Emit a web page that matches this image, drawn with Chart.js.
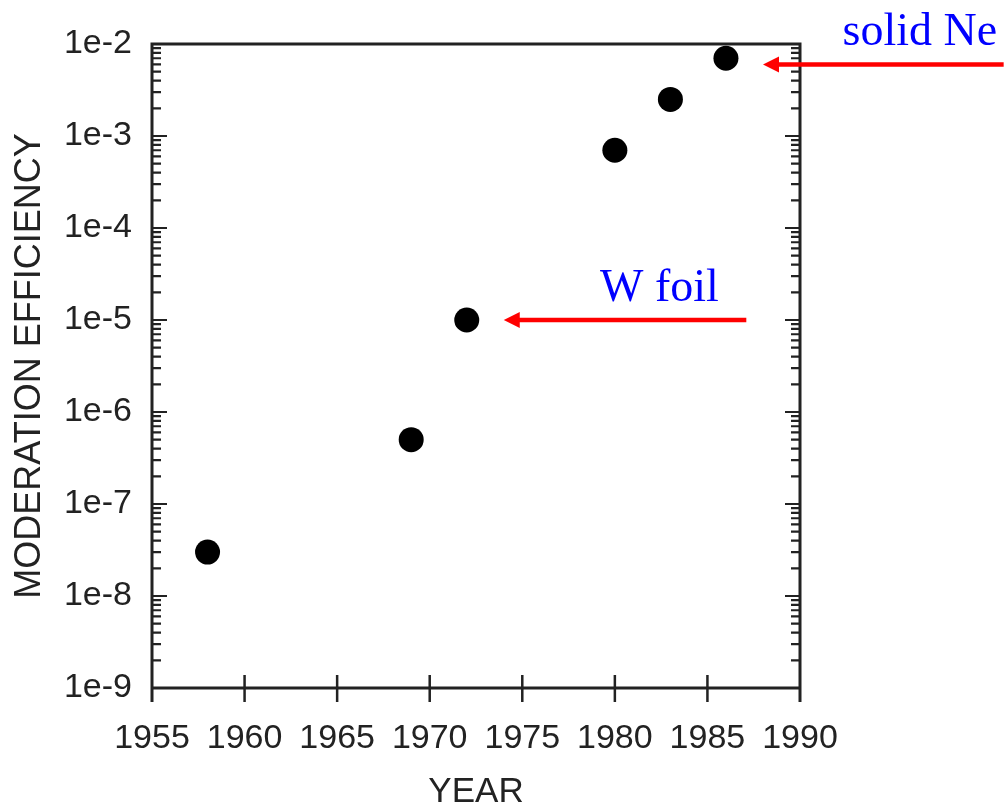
<!DOCTYPE html>
<html><head><meta charset="utf-8">
<script src="https://cdn.jsdelivr.net/npm/chart.js@4/dist/chart.umd.min.js"></script>
<style>html,body{margin:0;padding:0;background:#fff;} canvas{display:block;}</style>
</head><body>
<canvas id="c" width="1007" height="812"></canvas>
<script>
// ---- data ----
const years = [1958, 1969, 1972, 1980, 1983, 1986];
const efficiency = [3e-8, 5e-7, 1e-5, 7e-4, 2.5e-3, 7e-3];
const xTickValues = [1955, 1960, 1965, 1970, 1975, 1980, 1985, 1990];
const xTickLabels = ['1955', '1960', '1965', '1970', '1975', '1980', '1985', '1990'];
const yTickValues = [1e-9, 1e-8, 1e-7, 1e-6, 1e-5, 1e-4, 1e-3, 1e-2];
const yTickLabels = ['1e-9', '1e-8', '1e-7', '1e-6', '1e-5', '1e-4', '1e-3', '1e-2'];
const xTitle = 'YEAR';
const yTitle = 'MODERATION EFFICIENCY';
const noteTexts = ['solid Ne', 'W foil'];
const noteTextX = [1992.3, 1979.2];
const noteTextY = [9.8e-3, 1.6e-5];
const arrowFromX = [2001, 1987.1];
const arrowToX = [1988, 1974];
const arrowY = [6e-3, 1e-5];

const SANS = "'Liberation Sans', Arial, sans-serif";
const AX = '#222222';

const framePlugin = {
  id: 'frame',
  afterDatasetsDraw(chart) {
    const ctx = chart.ctx;
    const xs = chart.scales.x, ys = chart.scales.y;
    const L = chart.chartArea.left, R = chart.chartArea.right;
    const T = chart.chartArea.top, B = chart.chartArea.bottom;
    ctx.save();
    ctx.strokeStyle = AX;
    ctx.lineCap = 'butt';
    // box
    ctx.lineWidth = 3;
    ctx.beginPath();
    ctx.moveTo(L, B + 14); ctx.lineTo(L, T); ctx.lineTo(R, T); ctx.lineTo(R, B + 14);
    ctx.moveTo(L, B); ctx.lineTo(R, B);
    ctx.stroke();
    // x ticks
    ctx.lineWidth = 2.5;
    ctx.beginPath();
    xTickValues.forEach(v => {
      const px = xs.getPixelForValue(v);
      if (px > L + 2 && px < R - 2) { ctx.moveTo(px, B - 13); ctx.lineTo(px, B + 14); }
    });
    ctx.stroke();
    // y ticks (major + minor), inward on both sides
    ctx.lineWidth = 2.2;
    ctx.beginPath();
    yTickValues.forEach((v, i) => {
      const py = ys.getPixelForValue(v);
      if (py > T + 2 && py < B - 2) {
        ctx.moveTo(L, py); ctx.lineTo(L + 15, py);
        ctx.moveTo(R, py); ctx.lineTo(R - 15, py);
      }
      if (i < yTickValues.length - 1) {
        for (let k = 2; k <= 9; k++) {
          const my = ys.getPixelForValue(v * k);
          ctx.moveTo(L, my); ctx.lineTo(L + 9, my);
          ctx.moveTo(R, my); ctx.lineTo(R - 9, my);
        }
      }
    });
    ctx.stroke();
    // arrows
    ctx.strokeStyle = '#ff0000';
    ctx.fillStyle = '#ff0000';
    for (let i = 0; i < arrowY.length; i++) {
      const x0 = xs.getPixelForValue(arrowFromX[i]);
      const x1 = xs.getPixelForValue(arrowToX[i]);
      const y = ys.getPixelForValue(arrowY[i]);
      ctx.lineWidth = 4.5;
      ctx.beginPath();
      ctx.moveTo(x0, y); ctx.lineTo(x1 + 14, y);
      ctx.stroke();
      ctx.beginPath();
      ctx.moveTo(x1, y); ctx.lineTo(x1 + 16, y - 8); ctx.lineTo(x1 + 16, y + 8); ctx.closePath();
      ctx.fill();
    }
    // notes
    ctx.fillStyle = '#0000ff';
    ctx.font = "46px 'Liberation Serif', 'Times New Roman', serif";
    ctx.textAlign = 'left';
    ctx.textBaseline = 'alphabetic';
    for (let i = 0; i < noteTexts.length; i++) {
      ctx.fillText(noteTexts[i], xs.getPixelForValue(noteTextX[i]), ys.getPixelForValue(noteTextY[i]));
    }
    ctx.restore();
  }
};

new Chart(document.getElementById('c'), {
  type: 'scatter',
  data: {
    datasets: [{
      data: years.map((y, i) => ({ x: y, y: efficiency[i] })),
      pointRadius: 12.5,
      pointHoverRadius: 12.5,
      pointBackgroundColor: '#000',
      pointBorderColor: '#000',
      pointBorderWidth: 0,
      showLine: false
    }]
  },
  options: {
    responsive: false,
    animation: false,
    layout: { padding: { left: 0, top: 44, right: 207, bottom: 0 } },
    plugins: { legend: { display: false }, tooltip: { enabled: false } },
    scales: {
      x: {
        type: 'linear', min: 1955, max: 1990,
        afterBuildTicks: s => { s.ticks = xTickValues.map(v => ({ value: v })); },
        afterFit: s => { s.height = 124; },
        grid: { display: false, drawTicks: false },
        border: { display: false },
        ticks: {
          autoSkip: false, maxRotation: 0, padding: 30, color: AX,
          font: { family: SANS, size: 34 },
          callback: (v, i) => xTickLabels[i]
        },
        title: { display: true, text: xTitle, color: AX, font: { family: SANS, size: 35, lineHeight: 1 }, padding: { top: 0, bottom: 2 } }
      },
      y: {
        type: 'logarithmic', min: 1e-9, max: 1e-2,
        afterBuildTicks: s => { s.ticks = yTickValues.map(v => ({ value: v })); },
        afterFit: s => { s.width = 152; },
        grid: { display: false, drawTicks: false },
        border: { display: false },
        ticks: {
          autoSkip: false, padding: 20, color: AX,
          font: { family: SANS, size: 34 },
          callback: (v, i) => yTickLabels[i]
        },
        title: { display: true, text: yTitle, color: AX, font: { family: SANS, size: 36, lineHeight: 1.2 }, padding: { top: 8, bottom: 0 } }
      }
    }
  },
  plugins: [framePlugin]
});
</script>
</body></html>
